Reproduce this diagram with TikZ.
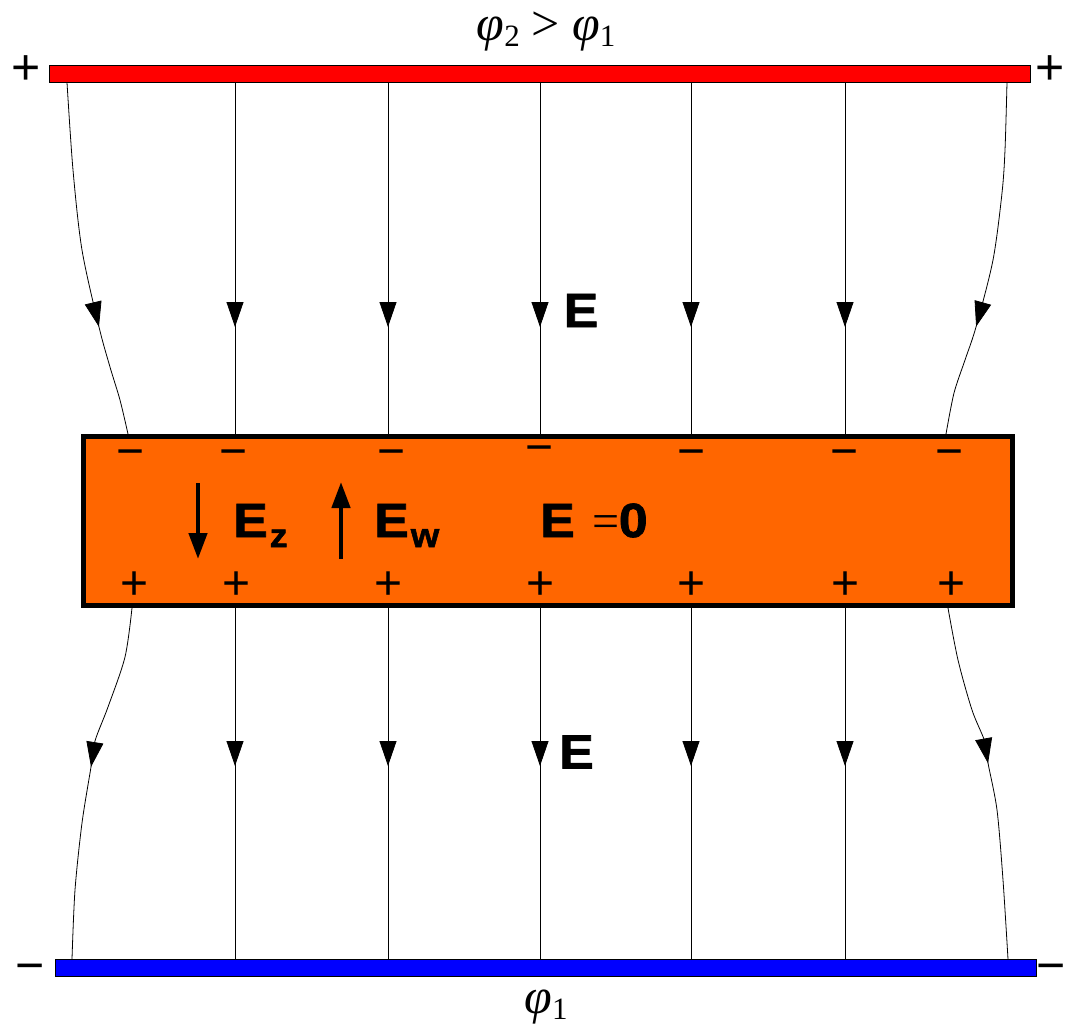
\documentclass[tikz,border=0pt]{standalone}
\usepackage{fontspec}
\setmainfont{Liberation Sans}
\newfontfamily\timesfont{Liberation Serif}
\newfontfamily\heavyfont[FakeBold=1.5, FakeStretch=1.08]{Liberation Sans Bold}
\usetikzlibrary{positioning,arrows.meta,decorations.markings}
\definecolor{slaborange}{HTML}{FF6600}
\newcommand{\phiof}[1]{{\itshape φ}\raisebox{-6pt}{\fontsize{31}{31}\selectfont #1}}
\tikzset{
  plate/.style={draw, line width=0.8pt, minimum width=981pt, minimum height=17pt, inner sep=0pt},
  slab/.style={draw, line width=5pt, fill=slaborange, minimum width=929pt, minimum height=169pt, inner sep=0pt},
  fieldline/.style={line width=0.8pt, postaction={decorate},
    decoration={markings, mark=at position #1 with {\arrow{Triangle[length=25pt,width=17pt]}}}},
  bigsign/.style={font=\fontsize{50}{50}\selectfont, inner sep=0pt, text height=35pt, text depth=0pt},
  smallsign/.style={font=\fontsize{48}{48}\selectfont, inner sep=0pt, text height=33.6pt, text depth=0pt},
  elabel/.style={font=\heavyfont\fontsize{48}{48}\selectfont, inner sep=0pt},
  philabel/.style={font=\timesfont\fontsize{50}{58}\selectfont, inner sep=0pt, anchor=base},
  inarrow/.style={-{Triangle[length=26pt,width=18pt]}, line width=4.5pt}
}
\begin{document}
\begin{tikzpicture}[x=1pt, y=-1pt]
  \useasboundingbox (0,0) rectangle (1066,1029);
  % plates and the slab between them
  \node[plate, fill=red] (topplate) at (540,73.5) {};
  \node[plate, fill=blue] (botplate) at (546,968) {};
  \node[slab] (slab) at (548,521) {};
  \node[philabel] (phitop) at (546,40) {\phiof{2}\hspace{12pt}>\hspace{12pt}\phiof{1}};
  \node[philabel] (phibot) at (546,1013) {\phiof{1}};
  \node[bigsign] (plateplusL) at (26.5,67) {+};
  \node[bigsign] (plateplusR) at (1050,67) {+};
  \node[bigsign] (plateminusL) at (30,965) {−};
  \node[bigsign] (plateminusR) at (1051,965) {−};
  % ends of the bent lines
  \coordinate (topL) at (67,0 |- topplate.south);
  \coordinate (topR) at (1007,0 |- topplate.south);
  \coordinate (slabtopL) at (128,0 |- slab.north);
  \coordinate (slabtopR) at (946,0 |- slab.north);
  \coordinate (slabbotL) at (132,0 |- slab.south);
  \coordinate (slabbotR) at (948,0 |- slab.south);
  \coordinate (botL) at (72,0 |- botplate.north);
  \coordinate (botR) at (1008,0 |- botplate.north);
  % field above the slab
  \draw[fieldline=247pt] plot[smooth] coordinates {(topL) (73,170) (82,250) (99,327) (110,367) (120,400) (slabtopL)};
  \draw[fieldline=247pt] plot[smooth] coordinates {(topR) (1005,150) (1002,193) (993,260) (976,327) (965,360) (954,393) (slabtopR)};
  \draw[fieldline=244.6pt] (235,0 |- topplate.south) -- (235,0 |- slab.north);
  \draw[fieldline=244.6pt] (388,0 |- topplate.south) -- (388,0 |- slab.north);
  \draw[fieldline=244.6pt] (540,0 |- topplate.south) -- (540,0 |- slab.north);
  \draw[fieldline=244.6pt] (691,0 |- topplate.south) -- (691,0 |- slab.north);
  \draw[fieldline=244.6pt] (845,0 |- topplate.south) -- (845,0 |- slab.north);
  % field below the slab
  \draw[fieldline=165pt] plot[smooth] coordinates {(slabbotL) (125,657) (108,707) (95,741) (91,767) (82,823) (75,890) (botL)};
  \draw[fieldline=161pt] plot[smooth] coordinates {(slabbotR) (958,660) (972,710) (985,742) (988,763) (997,810) (1003,880) (botR)};
  \draw[fieldline=158pt] (235,0 |- slab.south) -- (235,0 |- botplate.north);
  \draw[fieldline=158pt] (388,0 |- slab.south) -- (388,0 |- botplate.north);
  \draw[fieldline=158pt] (540,0 |- slab.south) -- (540,0 |- botplate.north);
  \draw[fieldline=158pt] (691,0 |- slab.south) -- (691,0 |- botplate.north);
  \draw[fieldline=158pt] (845,0 |- slab.south) -- (845,0 |- botplate.north);
  \node[elabel] (Eabove) at (581,310.5) {E};
  \node[elabel] (Ebelow) at (576.5,752) {E};
  % induced charges
  \node[smallsign] (minus1) at (131,451) {−};
  \node[smallsign] (minus2) at (234,451) {−};
  \node[smallsign] (minus3) at (392,451) {−};
  \node[smallsign] (minus4) at (540,447) {−};
  \node[smallsign] (minus5) at (692,451) {−};
  \node[smallsign] (minus6) at (845,451) {−};
  \node[smallsign] (minus7) at (950,451) {−};
  \node[smallsign] (plus1) at (135,583) {+};
  \node[smallsign] (plus2) at (237,583) {+};
  \node[smallsign] (plus3) at (389,583) {+};
  \node[smallsign] (plus4) at (541,583) {+};
  \node[smallsign] (plus5) at (692,583) {+};
  \node[smallsign] (plus6) at (846,583) {+};
  \node[smallsign] (plus7) at (952,583) {+};
  % fields inside the slab
  \coordinate (ezstart) at (198,483);
  \coordinate (ezend) at (198,559);
  \coordinate (ewstart) at (341,559);
  \coordinate (ewend) at (341,482);
  \draw[inarrow] (ezstart) -- (ezend);
  \draw[inarrow] (ewstart) -- (ewend);
  \node[elabel, anchor=base west] (Ez) at (233,537) {E\hspace{2pt}\raisebox{-10pt}{\fontsize{33}{33}\selectfont z}};
  \node[elabel, anchor=base west] (Ew) at (374,537) {E\hspace{2pt}\raisebox{-10pt}{\fontsize{34}{34}\selectfont w}};
  \node[elabel, anchor=base west] (Ezero) at (540,537) {E\hspace{18pt}{\timesfont =}\hspace{-1pt}0};
\end{tikzpicture}
\end{document}
